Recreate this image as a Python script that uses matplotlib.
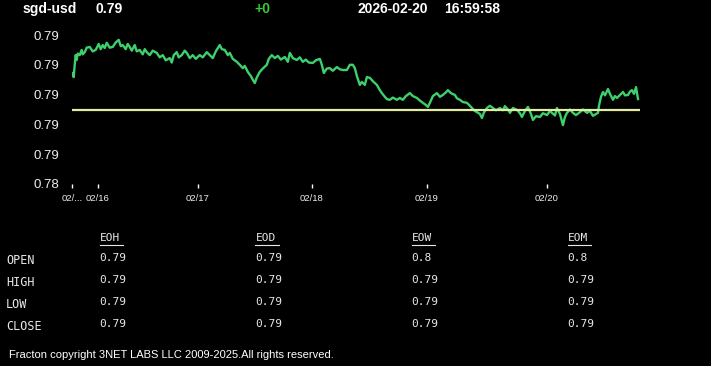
import matplotlib
matplotlib.use("Agg")
import matplotlib.pyplot as plt
from matplotlib.lines import Line2D

# header
symbol = "sgd-usd"
last_price = "0.79"
change = "+0"
stamp_date = "2026-02-20"
stamp_time = "16:59:58"

# price series (bar index, price)
t = [1, 2, 3, 4, 5, 6, 8, 10, 11, 13, 15, 18, 21, 24, 27, 29, 31, 33, 35, 38,
     41, 44, 47, 49, 51, 54, 56, 58, 60, 63, 65, 68, 71, 73, 75, 78, 81, 85, 88, 91,
     94, 98, 100, 102, 105, 107, 110, 113, 115, 118, 121, 124, 128, 131, 135, 138, 141, 144, 148, 150,
     153, 156, 158, 161, 165, 168, 171, 173, 176, 179, 181, 183, 185, 188, 191, 195, 197, 200, 203, 206,
     209, 213, 216, 218, 221, 225, 228, 231, 234, 237, 241, 244, 248, 250, 252, 255, 258, 261, 265, 268,
     271, 275, 278, 281, 283, 285, 288, 290, 293, 295, 298, 301, 305, 308, 310, 313, 315, 318, 321, 325,
     328, 331, 334, 338, 341, 345, 348, 351, 354, 356, 358, 361, 365, 368, 371, 374, 376, 379, 383, 385,
     388, 391, 395, 398, 400, 403, 405, 408, 410, 412, 415, 418, 421, 424, 428, 431, 433, 436, 438, 441,
     445, 448, 450, 453, 456, 459, 461, 464, 468, 471, 475, 478, 480, 483, 485, 488, 491, 493, 495, 498,
     501, 504, 508, 511, 515, 518, 521, 524, 526, 527, 529, 531, 533, 536, 538, 541, 543, 545, 548, 551,
     553, 556, 558, 560, 562, 564, 566]
price = [0.78778, 0.78767, 0.78800, 0.78826, 0.78813, 0.78830, 0.78826, 0.78840, 0.78828, 0.78834,
         0.78846, 0.78848, 0.78836, 0.78840, 0.78856, 0.78842, 0.78853, 0.78845, 0.78859, 0.78846,
         0.78848, 0.78860, 0.78867, 0.78850, 0.78853, 0.78842, 0.78856, 0.78848, 0.78838, 0.78853,
         0.78836, 0.78840, 0.78828, 0.78842, 0.78834, 0.78826, 0.78838, 0.78832, 0.78820, 0.78826,
         0.78812, 0.78818, 0.78806, 0.78826, 0.78834, 0.78820, 0.78826, 0.78838, 0.78832, 0.78818,
         0.78826, 0.78816, 0.78826, 0.78820, 0.78834, 0.78826, 0.78818, 0.78836, 0.78853, 0.78842,
         0.78840, 0.78826, 0.78832, 0.78816, 0.78808, 0.78800, 0.78791, 0.78797, 0.78781, 0.78770,
         0.78760, 0.78751, 0.78766, 0.78781, 0.78790, 0.78800, 0.78816, 0.78826, 0.78818, 0.78824,
         0.78814, 0.78821, 0.78808, 0.78832, 0.78818, 0.78813, 0.78820, 0.78808, 0.78814, 0.78806,
         0.78805, 0.78812, 0.78816, 0.78800, 0.78778, 0.78790, 0.78791, 0.78784, 0.78794, 0.78788,
         0.78786, 0.78786, 0.78800, 0.78800, 0.78791, 0.78770, 0.78746, 0.78754, 0.78746, 0.78767,
         0.78765, 0.78756, 0.78746, 0.78732, 0.78724, 0.78714, 0.78708, 0.78706, 0.78712, 0.78706,
         0.78711, 0.78706, 0.78716, 0.78724, 0.78716, 0.78711, 0.78704, 0.78698, 0.78692, 0.78687,
         0.78698, 0.78716, 0.78724, 0.78714, 0.78719, 0.78726, 0.78732, 0.78724, 0.78719, 0.78710,
         0.78706, 0.78700, 0.78698, 0.78690, 0.78684, 0.78676, 0.78673, 0.78668, 0.78657, 0.78672,
         0.78684, 0.78690, 0.78684, 0.78678, 0.78684, 0.78678, 0.78689, 0.78680, 0.78671, 0.78684,
         0.78679, 0.78670, 0.78660, 0.78676, 0.78687, 0.78668, 0.78652, 0.78662, 0.78660, 0.78670,
         0.78665, 0.78676, 0.78671, 0.78664, 0.78684, 0.78668, 0.78638, 0.78660, 0.78671, 0.78680,
         0.78671, 0.78665, 0.78673, 0.78680, 0.78671, 0.78676, 0.78663, 0.78668, 0.78671, 0.78690,
         0.78714, 0.78727, 0.78718, 0.78735, 0.78722, 0.78706, 0.78716, 0.78711, 0.78719, 0.78727,
         0.78718, 0.78719, 0.78728, 0.78732, 0.78722, 0.78740, 0.78708]
ref_level = 0.78680

x_ticks = [0, 26, 126, 240, 355, 475]
x_labels = ["02/...", "02/16", "02/17", "02/18", "02/19", "02/20"]
y_ticks = [0.7848, 0.7856, 0.7864, 0.7872, 0.7880, 0.7888]

# summary table
cols = ["EOH", "EOD", "EOW", "EOM"]
rows = ["OPEN", "HIGH", "LOW", "CLOSE"]
cells = [["0.79", "0.79", "0.8", "0.8"],
         ["0.79", "0.79", "0.79", "0.79"],
         ["0.79", "0.79", "0.79", "0.79"],
         ["0.79", "0.79", "0.79", "0.79"]]

W, H = 711, 366
fig = plt.figure(figsize=(W / 100, H / 100), dpi=100, facecolor="black")

def px(x, y):
    return x / W, 1 - y / H

hdr = dict(color="white", fontsize=10, fontweight="bold", family="Liberation Sans", va="center")
fig.text(*px(23, 9), symbol, **hdr)
fig.text(*px(96, 9), last_price, **hdr)
fig.text(*px(254, 9), change, **{**hdr, "color": "#33cc33"})
fig.text(*px(358, 9), stamp_date, **hdr)
fig.text(*px(444, 9), stamp_time, **hdr)

left, right, top, bottom = 71.7, 640, 35, 184
ax = fig.add_axes([left / W, 1 - bottom / H, (right - left) / W, (bottom - top) / H])
ax.set_facecolor("black")
ax.plot(t, price, color="#3ed06c", lw=1.7)
ax.axhline(ref_level, color="#e2eca2", lw=1.6)
ax.set_xlim(0, 568)
ax.set_ylim(y_ticks[0], y_ticks[-1])
for s in ax.spines.values():
    s.set_visible(False)
ax.set_yticks(y_ticks)
ax.set_yticklabels([f"{v:.2f}" for v in y_ticks], family="Liberation Sans", fontsize=9.5, color="#eeeeee")
ax.tick_params(axis="y", length=0, pad=9)
ax.set_xticks(x_ticks)
ax.set_xticklabels(x_labels, family="Liberation Sans", fontsize=6.8, color="#eeeeee")
ax.tick_params(axis="x", length=3, width=1, color="white", pad=4)

mono = dict(color="#e8e8e8", family="DejaVu Sans Mono", va="center")
col_x = [99, 255, 411, 567]
for j, c in enumerate(cols):
    fig.text(*px(col_x[j] + 1, 238), c, fontsize=8, **mono)
    fig.add_artist(Line2D([(col_x[j] + 0.5) / W, (col_x[j] + 23.5) / W],
                          [1 - 245 / H, 1 - 245 / H], color="#e8e8e8", lw=0.8))
row_y = [259, 281, 303, 325]
for i, r in enumerate(rows):
    fig.text(*px(6, row_y[i] + 1), r, fontsize=8.5, **mono)
    for j in range(len(cols)):
        fig.text(*px(col_x[j], row_y[i] - 1), cells[i][j], fontsize=8, **mono)

fig.text(*px(9, 355), "Fracton copyright 3NET LABS LLC 2009-2025.All rights reserved.",
         color="white", fontsize=8, family="Liberation Sans", va="center")

fig.savefig("out.png", dpi=100, facecolor="black")
